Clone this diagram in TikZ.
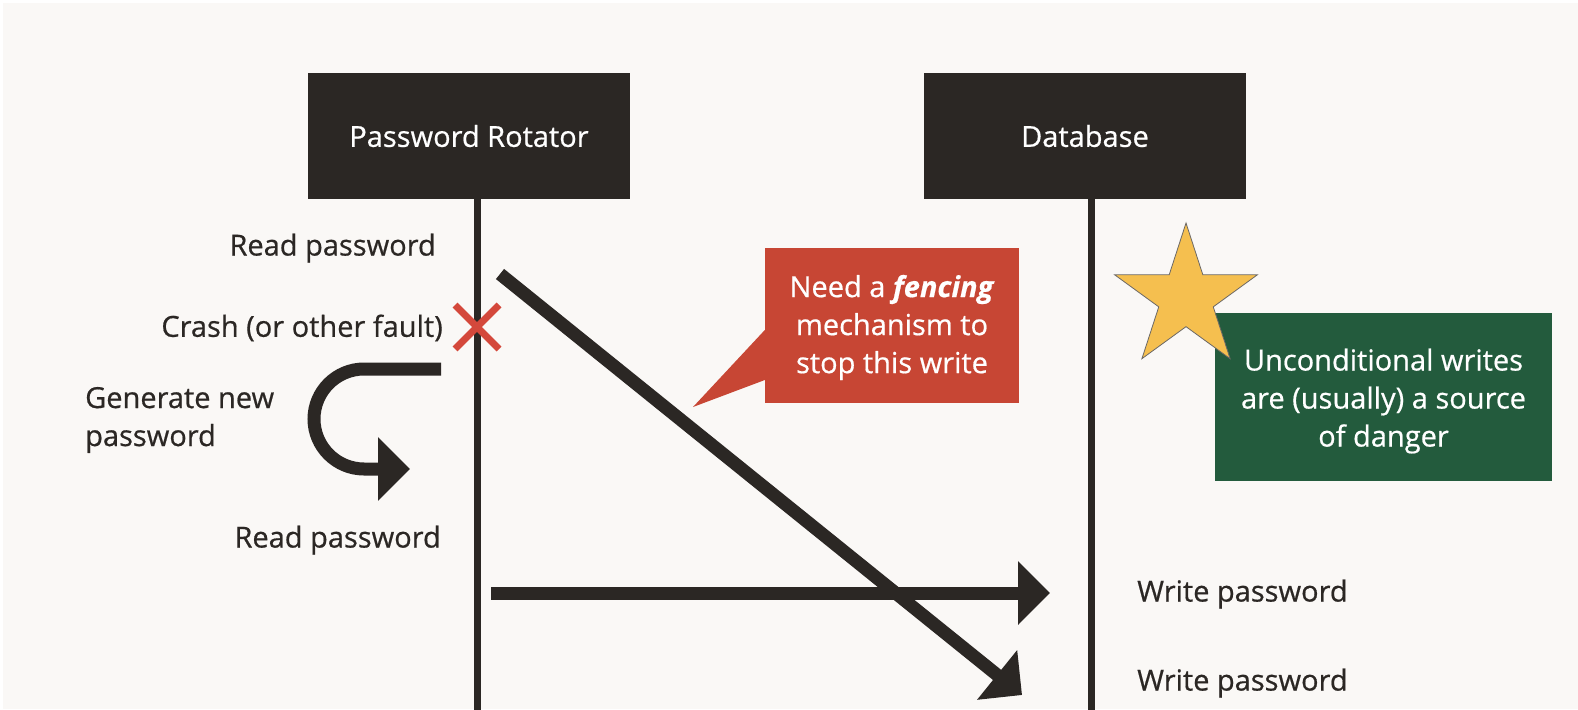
\documentclass[tikz,border=0pt]{standalone}
\usepackage{fontspec}
\setmainfont{Open Sans}[FakeBold=0.6]
\usetikzlibrary{arrows.meta,shapes.geometric}
\definecolor{paper}{HTML}{FAF8F6}
\definecolor{ink}{HTML}{2B2724}
\definecolor{fence}{HTML}{C74634}
\definecolor{warn}{HTML}{235B3D}
\definecolor{gold}{HTML}{F5BF4F}
\definecolor{crossred}{HTML}{D4483B}

\begin{document}
\begin{tikzpicture}[x=1pt,y=-1pt,
  every node/.style={font=\fontsize{29}{38}\selectfont},
  actor/.style={fill=ink, text=white, minimum width=322pt, minimum height=126pt, inner sep=0pt},
  lifeline/.style={draw=ink, line width=7pt},
  msg/.style={draw=ink, line width=13pt, -{Triangle[length=32pt,width=62pt]}},
  lbl/.style={text=ink, inner sep=0pt},
  callout/.style={text=white, inner sep=0pt, align=center},
]
% page background
\fill[white] (0,0) rectangle (1578,709);
\fill[paper] (3,3) rectangle (1578,709);
\useasboundingbox (0,0) rectangle (1578,709);

% participants
\node[actor] (pr) at (469,136) {Password Rotator};
\node[actor] (db) at (1085,136) {Database};

% lifelines
\coordinate (prbot) at (477,712);
\coordinate (dbbot) at (1091,712);
\draw[lifeline] (prbot |- pr.south) -- (prbot);
\draw[lifeline] (dbbot |- db.south) -- (dbbot);

% rotator side labels
\node[lbl, anchor=east] (read1) at (436,248) {Read password};
\node[lbl, anchor=east] (crash) at (443,328) {Crash (or other fault)};
\node[lbl, anchor=west, align=left] (gen) at (85,420) {Generate new\\password};
\node[lbl, anchor=east] (read2) at (441,540) {Read password};

% database side labels
\node[lbl, anchor=west] (write1) at (1137,594) {Write password};
\node[lbl, anchor=west] (write2) at (1137,683) {Write password};

% crash mark on the rotator lifeline
\coordinate (fault) at (477,327);
\draw[crossred, line width=7pt]
  ([shift={(-22,-22)}]fault) -- ([shift={(22,22)}]fault)
  ([shift={(-22,22)}]fault) -- ([shift={(22,-22)}]fault);

% generate new password: loop back to the lifeline
\coordinate (g0) at (441,369);
\coordinate (g1) at (410,469);
\draw[msg] (g0) -- (364,369)
  .. controls (336.4,369) and (314,391.4) .. (314,419)
  .. controls (314,446.6) and (336.4,469) .. (364,469) -- (g1);

% fresh write reaches the database first
\coordinate (w0) at (491,593);
\coordinate (w1) at (1050,593);
\draw[msg] (w0) -- (w1);

% stale write from the crashed rotator arrives later
\coordinate (s0) at (500,274);
\coordinate (s1) at (1022,695);
\draw[msg] (s0) -- (s1);

% fencing callout
\node[callout, fill=fence, minimum width=254pt, minimum height=155pt] (fencing) at (892,325.5) {};
\node[callout] (fencingtext) at (892,327.5)
  {Need a \textbf{\textit{fencing}}\\mechanism to\\stop this write};
\fill[fence] ([yshift=-4.5pt]fencing.west) -- (693,407) -- ([yshift=-54.5pt]fencing.west) -- cycle;

% warning note
\node[callout, fill=warn, minimum width=337pt, minimum height=168pt] (danger) at (1383.5,397) {};
\node[callout] (dangertext) at (1383.5,401)
  {Unconditional writes\\are (usually) a source\\of danger};
\node[star, star points=5, star point ratio=2.618, minimum size=150pt, inner sep=0pt,
  fill=gold, draw=ink!70, line width=0.8pt] (starmark) at (1186,298) {};
\end{tikzpicture}
\end{document}
